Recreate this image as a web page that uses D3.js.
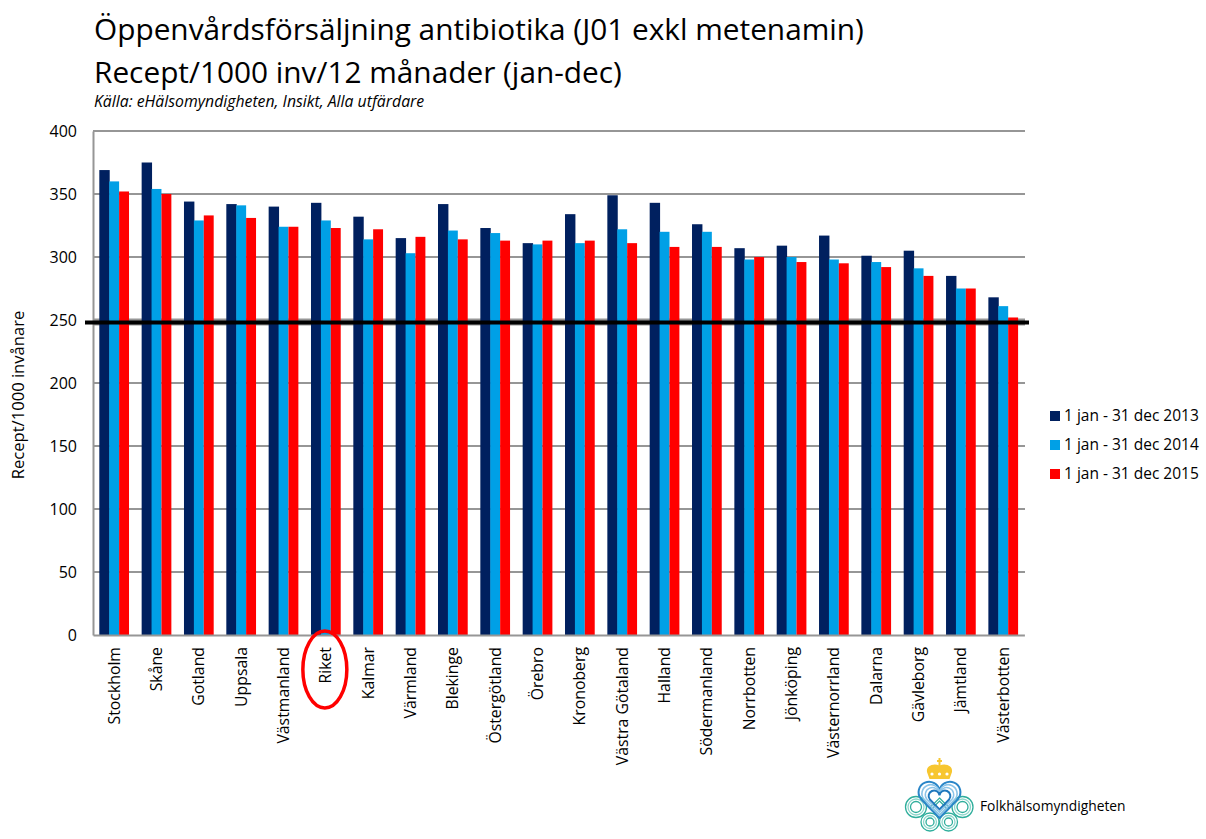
<!DOCTYPE html>
<html><head><meta charset="utf-8">
<script src="https://cdn.jsdelivr.net/npm/d3@7"></script>
<style>html,body{margin:0;padding:0;background:#fff}svg{display:block}text{font-family:"Open Sans","Noto Sans",sans-serif;fill:#000}</style>
</head><body><svg id="c" width="1206" height="839"></svg>
<script>
const categories=["Stockholm","Skåne","Gotland","Uppsala","Västmanland","Riket","Kalmar","Värmland","Blekinge","Östergötland","Örebro","Kronoberg","Västra Götaland","Halland","Södermanland","Norrbotten","Jönköping","Västernorrland","Dalarna","Gävleborg","Jämtland","Västerbotten"];
const seriesNames=["1 jan - 31 dec 2013","1 jan - 31 dec 2014","1 jan - 31 dec 2015"];
const v2013=[369,375,344,342,340,343,332,315,342,323,311,334,349,343,326,307,309,317,301,305,285,268];
const v2014=[360,354,329,341,324,329,314,303,321,319,310,311,322,320,320,298,300,298,296,291,275,261];
const v2015=[352,350,333,331,324,323,322,316,314,313,313,313,311,308,308,300,296,295,292,285,275,252];
const colors=["#00205f","#00a0e6","#ff0000"];
const yTicks=[0,50,100,150,200,250,300,350,400];
const refValue=250;
const titleLines=["Öppenvårdsförsäljning antibiotika (J01 exkl metenamin)","Recept/1000 inv/12 månader (jan-dec)"];
const source="Källa: eHälsomyndigheten, Insikt, Alla utfärdare";
const yTitle="Recept/1000 invånare";
const logoText="Folkhälsomyndigheten";

const svg=d3.select("#c");
const x=d3.scaleBand().domain(categories).range([93,1024.4]).paddingInner(0.298).paddingOuter(0.149);
const y=d3.scaleLinear().domain([0,400]).range([635,131]);
const xs=d3.scaleBand().domain(d3.range(3)).range([0,x.bandwidth()]);

// title
svg.selectAll(".t").data(titleLines).join("text").attr("x",94).attr("y",(d,i)=>[39.5,82.5][i]).attr("font-size",29.8).text(d=>d);
svg.append("text").attr("x",94).attr("y",106.5).attr("font-size",15.8).attr("font-style","italic").text(source);

// grid
svg.append("g").selectAll("line").data(yTicks.filter(d=>d>0)).join("line")
 .attr("x1",93).attr("x2",1025).attr("y1",d=>y(d)+(d==refValue?2:0)).attr("y2",d=>y(d)+(d==refValue?2:0))
 .attr("stroke","#969696").attr("stroke-width",d=>d==refValue?7:2);

// bars
[v2013,v2014,v2015].forEach((vals,s)=>{
 svg.append("g").selectAll("rect").data(vals).join("rect")
  .attr("x",(d,i)=>x(categories[i])+xs(s))
  .attr("width",xs.bandwidth()+(s==0?0.5:0))
  .attr("y",d=>y(d)).attr("height",d=>y(0)-y(d)).attr("fill",colors[s]);
});

// axes
const yAxis=d3.axisLeft(y).tickValues(yTicks).tickSize(0).tickPadding(16);
const gy=svg.append("g").attr("transform","translate(93,0)").call(yAxis);
gy.select(".domain").attr("stroke","#969696").attr("stroke-width",2);
gy.selectAll("text").attr("font-size",16).attr("font-family",'"Open Sans"');
const xAxis=d3.axisBottom(x).tickSize(0);
const gx=svg.append("g").attr("transform","translate(0,635)").call(xAxis);
gx.select(".domain").attr("stroke","#969696").attr("stroke-width",2);
gx.selectAll("text").attr("font-size",15.8).attr("text-anchor","end").attr("dy",0)
 .attr("transform","translate(0,12) rotate(-90)").attr("x",0).attr("y",5.5);

// y title
svg.append("text").attr("transform","translate(24,395) rotate(-90)").attr("text-anchor","middle").attr("font-size",16.6).text(yTitle);

// ref line
svg.append("line").attr("x1",85).attr("x2",1029).attr("y1",y(refValue)+2.5).attr("y2",y(refValue)+2.5).attr("stroke","#000").attr("stroke-width",4);

// Riket ellipse
svg.append("ellipse").attr("cx",x("Riket")+x.bandwidth()/2-1).attr("cy",669.5).attr("rx",22).attr("ry",38.5).attr("fill","none").attr("stroke","#ff0000").attr("stroke-width",3.5);

// legend
const lg=svg.append("g").selectAll("g").data(seriesNames).join("g").attr("transform",(d,i)=>`translate(1050,${[416,445,474][i]})`);
lg.append("rect").attr("x",0).attr("y",-5).attr("width",10).attr("height",10).attr("fill",(d,i)=>colors[i]);
lg.append("text").attr("x",14).attr("y",5).attr("font-size",15.5).text(d=>d);

// logo
const logo=svg.append("g");
const teal="#2fae9c",blue="#2a86c8";
[[916,807,10.5],[962.5,807,10.5],[930,822,9],[948.5,822,9]].forEach(([cx,cy,r])=>{
 [r,r-2.5,r-5].forEach((rr,i)=>{
  logo.append("circle").attr("cx",cx).attr("cy",cy).attr("r",rr).attr("fill","none").attr("stroke",i==1?"#8fd6cb":teal).attr("stroke-width",1.3);
 });
});
[10,7].forEach(r=>logo.append("path").attr("d",`M939.5 ${808-r} L${939.5+r} 808 L939.5 ${808+r} L${939.5-r} 808 Z`).attr("fill","none").attr("stroke",teal).attr("stroke-width",1.2));
const heart=s=>{const cx=939.5,cy=800;return `M${cx} ${cy+18*s} L${cx-18.5*s} ${cy-1*s} A${10.5*s} ${10.5*s} 0 1 1 ${cx} ${cy-9*s} A${10.5*s} ${10.5*s} 0 1 1 ${cx+18.5*s} ${cy-1*s} Z`;};
[[1,blue,2],[0.84,"#8cc4e8",1.6],[0.68,"#8cc4e8",1.4],[0.52,"#1f78bd",2]].forEach(([s,c,w])=>{
 logo.append("path").attr("d",heart(s)).attr("fill","none").attr("stroke",c).attr("stroke-width",w);
});
const crown=svg.append("g").attr("fill","#f7c62f");
crown.append("path").attr("d","M929.5 779 L927 772 C926 766 933 763 939.5 765.5 C946 763 953 766 952 772 L949.5 779 Z");
crown.append("rect").attr("x",938.5).attr("y",758).attr("width",2).attr("height",8);
crown.append("rect").attr("x",937).attr("y",760).attr("width",5).attr("height",2);
svg.append("g").selectAll("circle").data([932,939.5,947]).join("circle").attr("cx",d=>d).attr("cy",774).attr("r",1.6).attr("fill","#fff");
svg.append("text").attr("x",980).attr("y",811).attr("font-size",13.8).attr("font-family",'"Open Sans"').text(logoText);
</script></body></html>
